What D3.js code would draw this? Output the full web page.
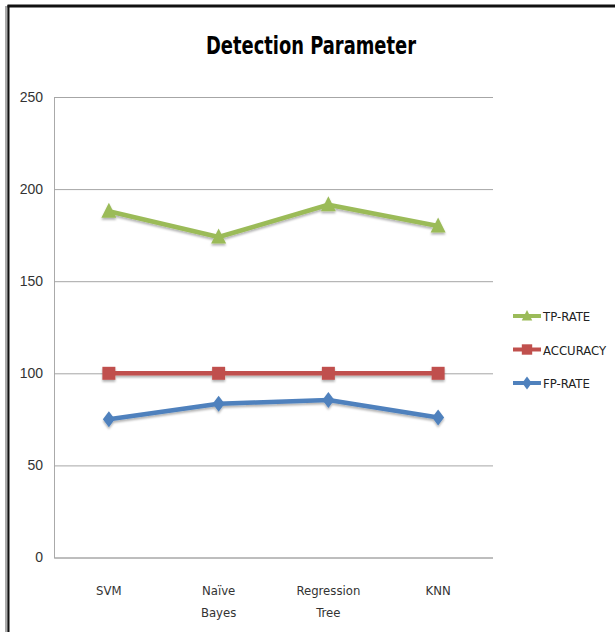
<!DOCTYPE html>
<html>
<head>
<meta charset="utf-8">
<script src="https://cdn.jsdelivr.net/npm/d3@7"></script>
<style>
  body { margin: 0; background: #fff; }
  svg { display: block; font-family: "DejaVu Sans", sans-serif; font-stretch: condensed; }
</style>
</head>
<body>
<div id="chart"></div>
<script>
// chart values
const categories = ["SVM", "Naïve\nBayes", "Regression\nTree", "KNN"];
const tpRate = [188, 174, 191.5, 180];
const accuracy = [100, 100, 100, 100];
const fpRate = [75, 83.5, 85.5, 76];
const yTicks = [0, 50, 100, 150, 200, 250];

const series = [
  { name: "TP-RATE", values: tpRate, color: "#9BBB59", shape: "triangle" },
  { name: "ACCURACY", values: accuracy, color: "#C0504D", shape: "square" },
  { name: "FP-RATE", values: fpRate, color: "#4F81BD", shape: "diamond" }
];

const width = 615, height = 632;
const margin = { left: 54, right: 122, top: 97, bottom: 74 };

const svg = d3.select("#chart").append("svg")
    .attr("width", width)
    .attr("height", height);

// drop shadow like the office chart
const defs = svg.append("defs");
const f = defs.append("filter").attr("id", "shadow")
    .attr("x", "-20%").attr("y", "-20%").attr("width", "140%").attr("height", "160%");
f.append("feDropShadow").attr("dx", 0).attr("dy", 2).attr("stdDeviation", 1.2)
    .attr("flood-color", "#000").attr("flood-opacity", 0.3);

// frame
svg.append("rect").attr("x", 5).attr("y", 6).attr("width", 3).attr("height", height)
    .attr("fill", "#aaa");
svg.append("line").attr("x1", 8.5).attr("x2", 8.5).attr("y1", 5).attr("y2", height)
    .attr("stroke", "#111").attr("stroke-width", 2);
svg.append("line").attr("x1", 7.5).attr("x2", width).attr("y1", 6).attr("y2", 6)
    .attr("stroke", "#111").attr("stroke-width", 3);

const x = d3.scalePoint()
    .domain(categories)
    .range([margin.left, width - margin.right])
    .padding(0.5);

const y = d3.scaleLinear()
    .domain([0, 250])
    .range([height - margin.bottom - 0.5, margin.top]);

// title
svg.append("text")
    .attr("x", 311).attr("y", 54)
    .attr("text-anchor", "middle")
    .attr("font-size", 24).attr("font-weight", "bold")
    .attr("fill", "#000")
    .attr("textLength", 210).attr("lengthAdjust", "spacingAndGlyphs")
    .text("Detection Parameter");

// grid + y axis
const yAxis = svg.append("g")
    .attr("transform", `translate(${margin.left},0)`)
    .call(d3.axisLeft(y).tickValues(yTicks)
      .tickSize(-(width - margin.left - margin.right)).tickPadding(11));
yAxis.select(".domain").attr("stroke", "#aaa");
yAxis.selectAll(".tick line").attr("stroke", "#a6a6a6");
yAxis.selectAll(".tick text").attr("font-size", 14).attr("fill", "#333")
    .attr("font-family", "inherit");

// x axis labels
const xLab = svg.append("g").selectAll("text")
    .data(categories)
    .join("text")
      .attr("x", d => x(d))
      .attr("y", 595)
      .attr("text-anchor", "middle")
      .attr("font-size", 13).attr("fill", "#333");
xLab.selectAll("tspan")
    .data(d => d.split("\n"))
    .join("tspan")
      .attr("x", function () { return d3.select(this.parentNode).attr("x"); })
      .attr("dy", (d, i) => i === 0 ? 0 : 22)
      .text(d => d);

function markerPath(shape) {
  if (shape === "triangle") return "M0,-8.5L7.5,6.5L-7.5,6.5Z";
  if (shape === "square") return "M-6.5,-6.5H6.5V6.5H-6.5Z";
  return "M0,-8L6,0L0,8L-6,0Z";
}

const line = d3.line()
    .x((d, i) => x(categories[i]))
    .y(d => y(d));

const sg = svg.append("g").selectAll("g")
    .data(series.slice().reverse())
    .join("g")
      .attr("filter", "url(#shadow)");

sg.append("path")
    .attr("d", d => line(d.values))
    .attr("fill", "none")
    .attr("stroke", d => d.color)
    .attr("stroke-width", 4.5)
    .attr("stroke-linejoin", "round");

sg.each(function (s) {
  d3.select(this).selectAll("path.mk")
    .data(s.values)
    .join("path")
      .attr("class", "mk")
      .attr("transform", (d, i) => `translate(${x(categories[i])},${y(d)})`)
      .attr("d", markerPath(s.shape))
      .attr("fill", s.color);
});

// legend
const legend = svg.append("g").selectAll("g")
    .data(series)
    .join("g")
      .attr("transform", (d, i) => `translate(513,${316 + i * 33.5})`);
legend.append("line")
    .attr("x1", 0).attr("x2", 28)
    .attr("stroke", d => d.color).attr("stroke-width", 4);
legend.append("path")
    .attr("transform", d => d.shape === "triangle" ? "translate(14,0) scale(0.7)" : "translate(14,0) scale(0.8)")
    .attr("d", d => markerPath(d.shape))
    .attr("fill", d => d.color);
legend.append("text")
    .attr("x", 30).attr("y", 5)
    .attr("font-size", 13).attr("fill", "#222")
    .text(d => d.name);
</script>
</body>
</html>
